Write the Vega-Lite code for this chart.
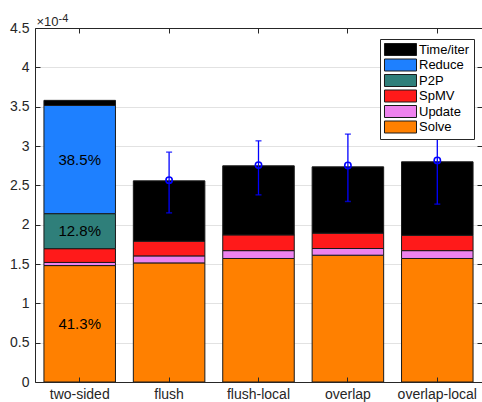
{
  "$schema": "https://vega.github.io/schema/vega-lite/v6.json",
  "width": 447,
  "height": 354,
  "autosize": {"type": "none"},
  "padding": {"left": 35, "top": 28, "right": 0, "bottom": 20},
  "background": "white",
  "config": {
    "view": {"stroke": null},
    "font": "Liberation Sans",
    "axis": {
      "domainColor": "#262626",
      "tickColor": "#262626",
      "labelColor": "#262626",
      "labelFontSize": 14,
      "labelFont": "Liberation Sans",
      "titleFont": "Liberation Sans",
      "titleColor": "#262626",
      "titleFontWeight": "normal",
      "gridColor": "#e2e2e2",
      "gridWidth": 1
    },
    "legend": {
      "orient": "none",
      "legendX": 345,
      "legendY": 11,
      "fillColor": "white",
      "strokeColor": "#262626",
      "strokeWidth": 1,
      "padding": 4,
      "rowPadding": -1.5,
      "symbolType": "M-2.667,-1H2.667V1H-2.667Z",
      "symbolSize": 144,
      "symbolOffset": 10,
      "symbolStrokeColor": "#1a1a1a",
      "symbolStrokeWidth": 1,
      "symbolOpacity": 1,
      "labelFontSize": 13,
      "labelFont": "Liberation Sans",
      "labelColor": "#000000",
      "labelOffset": 12,
      "title": null
    }
  },
  "datasets": {
    "bars": [
      {"method": "two-sided", "component": "Solve", "ord": 1, "time_e4": 1.48, "pct": "41.3%"},
      {"method": "two-sided", "component": "Update", "ord": 2, "time_e4": 0.04, "pct": null},
      {"method": "two-sided", "component": "SpMV", "ord": 3, "time_e4": 0.175, "pct": null},
      {"method": "two-sided", "component": "P2P", "ord": 4, "time_e4": 0.445, "pct": "12.8%"},
      {"method": "two-sided", "component": "Reduce", "ord": 5, "time_e4": 1.375, "pct": "38.5%"},
      {"method": "two-sided", "component": "Time/iter", "ord": 6, "time_e4": 0.065, "pct": null},
      {"method": "flush", "component": "Solve", "ord": 1, "time_e4": 1.514, "pct": null},
      {"method": "flush", "component": "Update", "ord": 2, "time_e4": 0.089, "pct": null},
      {"method": "flush", "component": "SpMV", "ord": 3, "time_e4": 0.187, "pct": null},
      {"method": "flush", "component": "Time/iter", "ord": 6, "time_e4": 0.767, "pct": null},
      {"method": "flush-local", "component": "Solve", "ord": 1, "time_e4": 1.57, "pct": null},
      {"method": "flush-local", "component": "Update", "ord": 2, "time_e4": 0.10, "pct": null},
      {"method": "flush-local", "component": "SpMV", "ord": 3, "time_e4": 0.20, "pct": null},
      {"method": "flush-local", "component": "Time/iter", "ord": 6, "time_e4": 0.878, "pct": null},
      {"method": "overlap", "component": "Solve", "ord": 1, "time_e4": 1.612, "pct": null},
      {"method": "overlap", "component": "Update", "ord": 2, "time_e4": 0.085, "pct": null},
      {"method": "overlap", "component": "SpMV", "ord": 3, "time_e4": 0.195, "pct": null},
      {"method": "overlap", "component": "Time/iter", "ord": 6, "time_e4": 0.843, "pct": null},
      {"method": "overlap-local", "component": "Solve", "ord": 1, "time_e4": 1.57, "pct": null},
      {"method": "overlap-local", "component": "Update", "ord": 2, "time_e4": 0.10, "pct": null},
      {"method": "overlap-local", "component": "SpMV", "ord": 3, "time_e4": 0.195, "pct": null},
      {"method": "overlap-local", "component": "Time/iter", "ord": 6, "time_e4": 0.934, "pct": null}
    ],
    "err": [
      {"method": "flush", "mean": 2.566, "low": 2.15, "high": 2.922},
      {"method": "flush-local", "mean": 2.757, "low": 2.379, "high": 3.066},
      {"method": "overlap", "mean": 2.753, "low": 2.295, "high": 3.151},
      {"method": "overlap-local", "mean": 2.817, "low": 2.261, "high": 3.37}
    ]
  },
  "layer": [
    {
      "data": {"name": "bars"},
      "mark": {"type": "bar", "stroke": "#1a1a1a", "strokeWidth": 1},
      "encoding": {
        "x": {
          "field": "method", "type": "nominal",
          "sort": ["two-sided", "flush", "flush-local", "overlap", "overlap-local"],
          "scale": {"paddingInner": 0.2, "paddingOuter": 0.1},
          "axis": {"orient": "bottom", "title": null, "labelAngle": 0, "tickSize": -5, "labelPadding": 10, "zindex": 1, "grid": false}
        },
        "y": {
          "field": "time_e4", "type": "quantitative", "stack": "zero",
          "scale": {"domain": [0, 4.5], "nice": false},
          "axis": {"grid": true, "domain": false, "ticks": false, "labels": false, "title": null, "zindex": 0,
                   "values": [0, 0.5, 1, 1.5, 2, 2.5, 3, 3.5, 4, 4.5]}
        },
        "color": {
          "field": "component", "type": "nominal",
          "scale": {
            "domain": ["Time/iter", "Reduce", "P2P", "SpMV", "Update", "Solve"],
            "range": ["#000000", "#1E80FF", "#2F7F7A", "#FF1A1A", "#EE82EE", "#FF8000"]
          }
        },
        "order": {"field": "ord", "type": "quantitative"}
      }
    },
    {
      "data": {"name": "bars"},
      "transform": [
        {"stack": "time_e4", "groupby": ["method"], "sort": [{"field": "ord"}], "as": ["v0", "v1"]},
        {"filter": "datum.pct != null"},
        {"calculate": "(datum.v0 + datum.v1) / 2", "as": "mid"}
      ],
      "mark": {"type": "text", "fontSize": 15, "font": "Liberation Sans", "color": "#000000", "baseline": "middle", "align": "center"},
      "encoding": {
        "x": {"field": "method", "type": "nominal", "sort": ["two-sided", "flush", "flush-local", "overlap", "overlap-local"], "axis": null},
        "y": {"field": "mid", "type": "quantitative", "axis": null},
        "text": {"field": "pct"}
      }
    },
    {
      "data": {"name": "err"},
      "mark": {"type": "rule", "color": "#0000FF", "strokeWidth": 1.3},
      "encoding": {
        "x": {
          "field": "method", "type": "nominal", "sort": ["two-sided", "flush", "flush-local", "overlap", "overlap-local"],
          "axis": {"orient": "top", "labels": false, "tickSize": -5, "zindex": 1, "grid": false,
                   "title": "-4", "titleFontSize": 11, "titleX": 23, "titleY": -7, "titleAlign": "left", "titleBaseline": "alphabetic", "titleAnchor": null}
        },
        "y": {
          "field": "low", "type": "quantitative",
          "axis": {"orient": "left", "grid": false, "tickSize": -5, "labelPadding": 11, "zindex": 1, "format": "~g",
                   "values": [0, 0.5, 1, 1.5, 2, 2.5, 3, 3.5, 4, 4.5],
                   "title": "×10", "titleFontSize": 13, "titleAngle": 0, "titleX": 1, "titleY": -3, "titleAlign": "left", "titleBaseline": "alphabetic"}
        },
        "y2": {"field": "high"}
      }
    },
    {
      "data": {"name": "err"},
      "mark": {"type": "tick", "color": "#0000FF", "size": 6, "thickness": 1.5},
      "encoding": {
        "x": {"field": "method", "type": "nominal", "sort": ["two-sided", "flush", "flush-local", "overlap", "overlap-local"], "axis": null},
        "y": {"field": "low", "type": "quantitative", "axis": null}
      }
    },
    {
      "data": {"name": "err"},
      "mark": {"type": "tick", "color": "#0000FF", "size": 6, "thickness": 1.5},
      "encoding": {
        "x": {"field": "method", "type": "nominal", "sort": ["two-sided", "flush", "flush-local", "overlap", "overlap-local"], "axis": null},
        "y": {"field": "high", "type": "quantitative", "axis": null}
      }
    },
    {
      "data": {"name": "err"},
      "mark": {"type": "point", "shape": "circle", "filled": false, "stroke": "#0000FF", "strokeWidth": 1.6, "size": 40, "opacity": 1},
      "encoding": {
        "x": {"field": "method", "type": "nominal", "sort": ["two-sided", "flush", "flush-local", "overlap", "overlap-local"], "axis": null},
        "y": {
          "field": "mean", "type": "quantitative",
          "axis": {"orient": "right", "labels": false, "domain": false, "tickSize": -5, "zindex": 1, "grid": false, "title": null,
                   "values": [0, 0.5, 1, 1.5, 2, 2.5, 3, 3.5, 4, 4.5]}
        }
      }
    }
  ],
  "resolve": {"axis": {"x": "independent", "y": "independent"}}
}
